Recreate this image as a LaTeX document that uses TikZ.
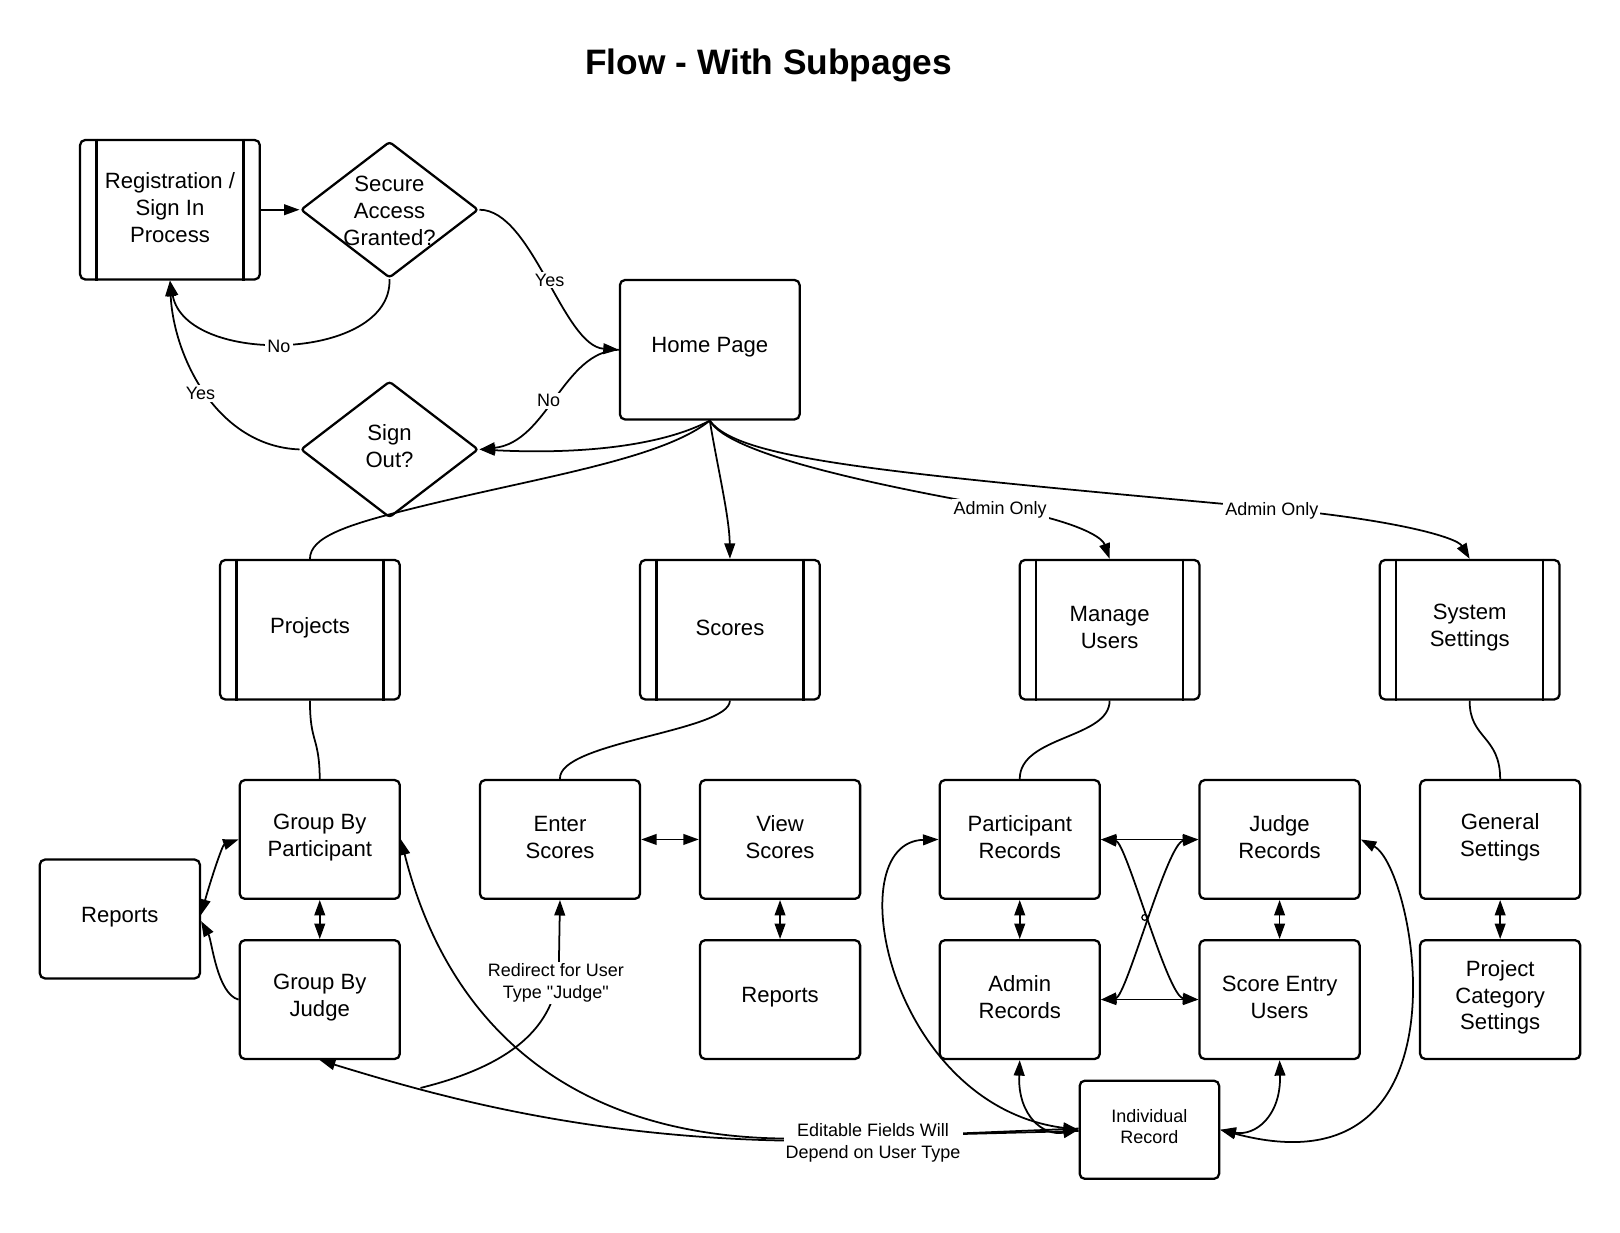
\documentclass[tikz,border=0pt]{standalone}
\usepackage{fontspec}
\setmainfont{Liberation Sans}
\usetikzlibrary{arrows.meta,shapes.geometric}
\newcommand\fsMain{\fontsize{10.7}{13}\selectfont}
\newcommand\fsSmall{\fontsize{8.7}{10.5}\selectfont}
\newcommand\fsTitle{\fontsize{17.1}{20}\selectfont\bfseries}
\font\qfont="Liberation Sans" at 8.7pt
\newcommand\sq{{\qfont"}}
% box with its text as a separate, slightly raised node
\newcommand\tbox[4][bx]{\node[#1] (#2) at (#3) {};\node[btxt] (#2-t) at ([yshift=1.1pt]#2.center) {#4};}
\begin{document}
\begin{tikzpicture}[x=0.5pt,y=-0.5pt,
  bx/.style={draw,line width=1.1pt,rounded corners=2.5pt,minimum width=77.5pt,minimum height=57.5pt,inner sep=0pt},
  bbx/.style={bx,minimum width=87pt,minimum height=67.5pt},
  sbx/.style={bx,minimum width=67.5pt,minimum height=47.5pt},
  btxt/.style={align=center,font=\fsMain,inner sep=0pt},
  dia/.style={draw,line width=1.1pt,diamond,rounded corners=1.5pt,minimum width=86pt,minimum height=66pt,inner sep=0pt},
  conn/.style={line width=0.85pt},
  tip/.style={},
  arr/.style={conn,-{Triangle[length=7.5pt,width=5.2pt]}},
  darr/.style={conn,{Triangle[length=7.5pt,width=5.2pt]}-{Triangle[length=7.5pt,width=5.2pt]}},
  lbl/.style={fill=white,font=\fsSmall,inner sep=1pt,align=center}]
\useasboundingbox (0,0) rectangle (1568,1193);

\node[font=\fsTitle] (title) at (744,63) {Flow - With Subpages};

% top nodes
\tbox[bbx]{reg}{164.5,203}{Registration /\\Sign In\\Process}
\node[dia] (sec) at (377,203) {};
\node[btxt] (sectxt) at (377,204) {Secure\\Access\\Granted?};
\tbox[bbx]{home}{687,338.5}{Home Page}
\node[dia] (so) at (377,435) {};
\node[btxt] (sotxt) at (377,432) {Sign\\Out?};

% second row
\tbox[bbx]{proj}{300,609.5}{Projects}
\tbox[bbx]{scores}{706.5,609.5}{Scores}
\tbox[bbx]{manage}{1074,609.5}{Manage\\Users}
\tbox[bbx]{sys}{1422.5,609.5}{System\\Settings}

\foreach \n in {reg,proj,scores,manage,sys}{
  \draw[line width=1.1pt] ([xshift=8.5pt]\n.north west) -- ([xshift=8.5pt]\n.south west);
  \draw[line width=1.1pt] ([xshift=-8.5pt]\n.north east) -- ([xshift=-8.5pt]\n.south east);
}

% lower nodes
\tbox{gbp}{309.5,812.5}{Group By\\Participant}
\tbox{gbj}{309.5,967.5}{Group By\\Judge}
\tbox{rep1}{116,889.5}{Reports}
\tbox{enter}{542,812.5}{Enter\\Scores}
\tbox{view}{755,812.5}{View\\Scores}
\tbox{rep2}{755,967.5}{Reports}
\tbox{part}{987,812.5}{Participant\\Records}
\tbox{judge}{1238.5,812.5}{Judge\\Records}
\tbox{admin}{987,967.5}{Admin\\Records}
\tbox{seu}{1238.5,967.5}{Score Entry\\Users}
\node[sbx] (ind) at (1112.5,1093.5) {};
\node[btxt,font=\fsSmall] (ind-t) at ([yshift=1.5pt]ind.center) {Individual\\Record};
\tbox{gen}{1452,812.5}{General\\Settings}
\tbox{pcs}{1452,967.5}{Project\\Category\\Settings}

% top connectors
\draw[arr] (reg.east) -- (sec.west);
\draw[arr] (sec.east) .. controls (515,203) and (545,335) .. (home.west);
\draw[arr] (sec.south) .. controls (380,350) and (180,355) .. (reg.south);
\draw[arr] (home.west) .. controls (545,340) and (530,428) .. (so.east);
\draw[arr] (home.south) .. controls (640,432) and (560,440) .. (so.east);
\draw[arr] (so.west) .. controls (210,432) and (168,345) .. (reg.south);

\draw[conn] (home.south) .. controls (640,445) and (520,462) .. (400,492) .. controls (335,508) and (300,520) .. (proj.north);
\draw[arr] (home.south) .. controls (694,450) and (706,500) .. (scores.north);
\draw[arr] (home.south) .. controls (705,440) and (850,470) .. (968,491) .. controls (1035,503) and (1066,518) .. (manage.north);
\draw[arr] (home.south) .. controls (715,445) and (850,457) .. (1231,492) .. controls (1350,503) and (1410,520) .. (sys.north);

% row 2 to row 3
\draw[conn] (proj.south) .. controls (300,720) and (309,712) .. (gbp.north);
\draw[conn] (scores.south) .. controls (706,708) and (540,718) .. (enter.north);
\draw[conn] (manage.south) .. controls (1074,715) and (987,712) .. (part.north);
\draw[conn] (sys.south) .. controls (1422,715) and (1452,712) .. (gen.north);

% left cluster
\draw[darr] (gbp.west) .. controls (215,818) and (203,855) .. ([yshift=2pt]rep1.east);
\draw[arr] (gbj.west) .. controls (210,962) and (205,910) .. ([yshift=-1pt]rep1.east);
\draw[darr] (gbp.south) -- (gbj.north);
\draw[darr] (enter.east) -- (view.west);
\draw[darr] (view.south) -- (rep2.north);
\draw[darr] (gen.south) -- (pcs.north);

% right cluster
\draw[darr] (part.south) -- (admin.north);
\draw[darr] (judge.south) -- (seu.north);
\draw[darr] (part.east) -- (judge.west);
\draw[darr] (admin.east) -- (seu.west);
\draw[darr] (part.east) .. controls (1090,815) and (1130,965) .. (seu.west);
\draw[darr] (admin.east) .. controls (1090,965) and (1130,815) .. (judge.west);
\coordinate (jump) at (1108,888);
\draw[line width=0.6pt] (jump) circle[radius=1.4pt];
\draw[darr] (admin.south) .. controls (985,1080) and (1010,1100) .. (ind.west);
\draw[darr] (seu.south) .. controls (1240,1080) and (1215,1100) .. (ind.east);
\draw[darr] (part.west) .. controls (810,815) and (860,1070) .. (ind.west);
\draw[darr] (judge.east) .. controls (1370,840) and (1430,1160) .. (ind.east);

% long connectors from Individual Record
\draw[arr] ([yshift=-0.6pt]ind.west) -- (760,1102) .. controls (540,1100) and (430,980) .. (gbp.east);
\draw[arr] ([yshift=0.6pt]ind.west) -- (760,1104) .. controls (560,1100) and (420,1060) .. (gbj.south);
\coordinate (rj) at (407,1053);
\draw[arr] (rj) .. controls (500,1030) and (541,990) .. (541,930) -- (enter.south);

% labels
\node[lbl] (lyes1) at (532,271) {Yes};
\node[lbl] (lno1) at (270,335) {No};
\node[lbl] (lno2) at (531,388) {No};
\node[lbl] (lyes2) at (194,381) {Yes};
\node[lbl] (ladm1) at (968,493) {Admin Only};
\node[lbl] (ladm2) at (1231,494) {Admin Only};
\node[lbl] (lredir) at (538,951.5) {Redirect for User\\Type \sq Judge\sq};
\node[lbl] (ledit) at (845,1106) {Editable Fields Will\\Depend on User Type};
\end{tikzpicture}
\end{document}
